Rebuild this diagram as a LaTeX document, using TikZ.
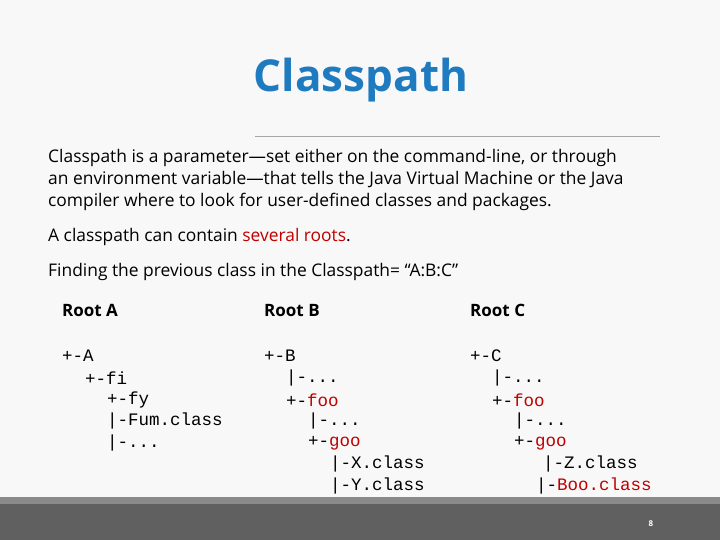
\documentclass[tikz,border=0pt]{standalone}
\usepackage{fontspec}
\setmainfont{Open Sans}
\setmonofont{Liberation Mono}
\definecolor{bg}{HTML}{F8F8F8}
\definecolor{ttl}{HTML}{1F7BC0}
\definecolor{rd}{HTML}{C00000}
\definecolor{barD}{HTML}{606060}
\definecolor{barL}{HTML}{8A8A8A}
\begin{document}
\begin{tikzpicture}[x=1pt,y=-1pt,
  txt/.style={anchor=west,inner sep=0pt,font=\fontsize{17.4}{20}\selectfont},
  hd/.style={anchor=base west,inner sep=0pt,font=\fontsize{17}{20}\selectfont\bfseries},
  cd/.style={anchor=west,inner sep=0pt,font=\fontsize{17.5}{20}\ttfamily}]
\useasboundingbox (0,0) rectangle (720,540);
\fill[bg] (0,0) rectangle (720,540);
\fill[barL] (0,497) rectangle (720,504);
\fill[barD] (0,504) rectangle (720,540);
\node[font=\fontsize{8}{9}\selectfont\bfseries,text=white] (pg) at (651,524) {8};
\node[font=\fontsize{44}{48}\selectfont\bfseries,text=ttl] (title) at (361,80) {Classpath};
\draw[gray!70,line width=0.8pt] (255,136) -- (660,136);
\node[txt] (l1) at (48,158) {Classpath is a parameter—set either on the command-line, or through};
\node[txt] (l2) at (48,180) {an environment variable—that tells the Java Virtual Machine or the Java};
\node[txt] (l3) at (48,202) {compiler where to look for user-defined classes and packages.};
\node[txt] (l4) at (48,237) {A classpath can contain \textcolor{rd}{several roots}.};
\node[txt] (l5) at (48,272) {Finding the previous class in the Classpath= “A:B:C”};
\node[hd] (ha) at (62,316) {Root A};
\node[hd] (hb) at (264,316) {Root B};
\node[hd] (hc) at (470,316) {Root C};
% Root A
\node[cd] (a1) at (62,356) {+-A};
\node[cd] (a2) at (85,378) {+-fi};
\node[cd] (a3) at (107,400) {+-fy};
\node[cd] (a4) at (107,421) {|-Fum.class};
\node[cd] (a5) at (107,443) {|-...};
% Root B
\node[cd] (b1) at (264,356) {+-B};
\node[cd] (b2) at (286,378) {|-...};
\node[cd] (b3) at (286,400) {+-\textcolor{rd}{foo}};
\node[cd] (b4) at (308,421) {|-...};
\node[cd] (b5) at (308,443) {+-\textcolor{rd}{goo}};
\node[cd] (b6) at (330,464) {|-X.class};
\node[cd] (b7) at (330,486) {|-Y.class};
% Root C
\node[cd] (c1) at (470,356) {+-C};
\node[cd] (c2) at (492,378) {|-...};
\node[cd] (c3) at (492,400) {+-\textcolor{rd}{foo}};
\node[cd] (c4) at (514,421) {|-...};
\node[cd] (c5) at (514,443) {+-\textcolor{rd}{goo}};
\node[cd] (c6) at (543,464) {|-Z.class};
\node[cd] (c7) at (536,486) {|-\textcolor{rd}{Boo.class}};
\end{tikzpicture}
\end{document}
